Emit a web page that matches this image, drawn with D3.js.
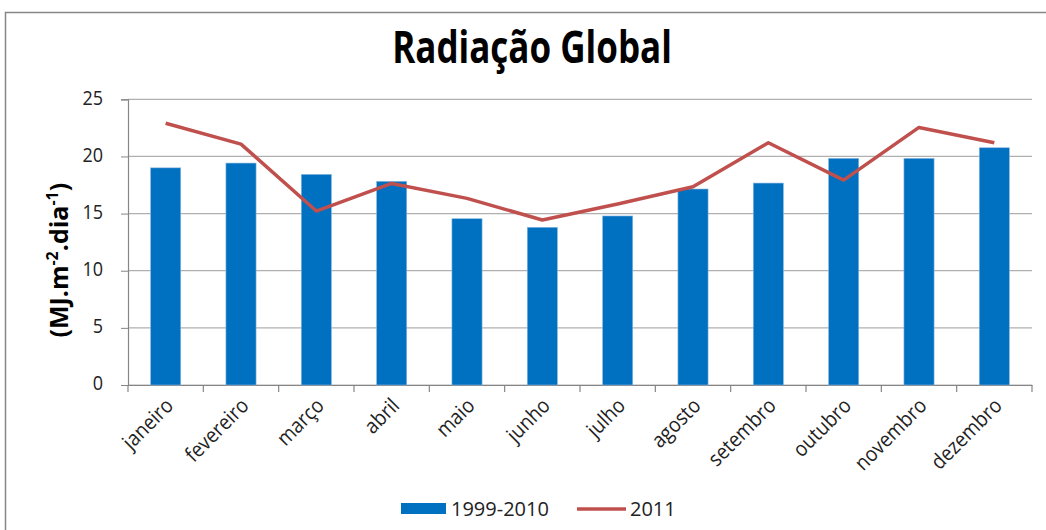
<!DOCTYPE html>
<html><head><meta charset="utf-8">
<script src="https://cdn.jsdelivr.net/npm/d3@7/dist/d3.min.js"></script>
<style>body{margin:0;background:#fff}svg{display:block}</style>
</head><body>
<script>
const months = ["janeiro","fevereiro","março","abril","maio","junho","julho","agosto","setembro","outubro","novembro","dezembro"];
const avg19992010 = [19.0, 19.42, 18.43, 17.82, 14.55, 13.8, 14.79, 17.15, 17.67, 19.83, 19.83, 20.76];
const y2011 = [22.9, 21.08, 15.22, 17.64, 16.33, 14.44, 15.84, 17.35, 21.2, 17.93, 22.54, 21.2];
const yTicks = [0, 5, 10, 15, 20, 25];
const seriesNames = ["1999-2010", "2011"];
const title = "Radiação Global";

const W = 1046, H = 530;
const font = "'Open Sans', 'DejaVu Sans', sans-serif";
const svg = d3.select("body").append("svg").attr("width", W).attr("height", H);

// outer border
svg.append("rect").attr("x", 5.5).attr("y", 12.5).attr("width", W + 10).attr("height", H + 10)
  .attr("fill", "none").attr("stroke", "#868686").attr("stroke-width", 1.5);

const x0 = 128, x1 = 1032, yTop = 99.3, yBot = 385;
const x = d3.scaleBand().domain(months).range([x0, x1]).paddingInner(0.6).paddingOuter(0.3);
const xb = d3.scaleBand().domain(months).range([x0, x1]);
const y = d3.scaleLinear().domain([0, 25]).range([yBot, yTop]);

// gridlines
svg.append("g").selectAll("line").data(yTicks).join("line")
  .attr("x1", x0).attr("x2", x1).attr("y1", d => y(d)).attr("y2", d => y(d))
  .attr("stroke", "#b0b0b0").attr("stroke-width", 1.2);

// y axis
const yAxis = svg.append("g").attr("transform", `translate(${x0},0)`)
  .call(d3.axisLeft(y).tickValues(yTicks).tickSize(7).tickPadding(18));
yAxis.select(".domain").attr("stroke", "#868686").attr("stroke-width", 1.2);
yAxis.selectAll(".tick line").attr("stroke", "#868686");
yAxis.selectAll("text").attr("font-family", font).attr("font-size", 18).attr("fill", "#222")
  .attr("transform", "scale(1,1.1)").attr("dy", "0.25em");

// x axis
const xAxis = svg.append("g").attr("transform", `translate(0,${yBot})`)
  .call(d3.axisBottom(xb).tickSize(0).tickSizeOuter(0));
xAxis.attr("font-size", null);
xAxis.select(".domain").attr("stroke", "#868686").attr("stroke-width", 1.2);
xAxis.selectAll(".tick line").remove();
xAxis.selectAll(".tick text")
  .attr("font-family", font).style("font-size", "19px").attr("fill", "#222")
  .attr("text-anchor", "end").attr("dy", 0).attr("y", 0)
  .attr("transform", "translate(9,22) rotate(-45) scale(1,1.1)");
// category boundary ticks
svg.append("g").selectAll("line").data(months.concat(["__end"])).join("line")
  .attr("x1", (d, i) => x0 + i * xb.step()).attr("x2", (d, i) => x0 + i * xb.step())
  .attr("y1", yBot).attr("y2", yBot + 7).attr("stroke", "#868686").attr("stroke-width", 1.2);

// bars
svg.append("g").selectAll("rect").data(avg19992010).join("rect")
  .attr("x", (d, i) => x(months[i])).attr("width", x.bandwidth())
  .attr("y", d => y(d)).attr("height", d => yBot - y(d))
  .attr("fill", "#0070C0").attr("stroke", "#8cb8e0").attr("stroke-width", 0.6);

// line
const line = d3.line().x((d, i) => xb(months[i]) + xb.bandwidth() / 2).y(d => y(d));
svg.append("path").datum(y2011).attr("d", line)
  .attr("fill", "none").attr("stroke", "#C0504D").attr("stroke-width", 3.5).attr("stroke-linejoin", "round");

// title
svg.append("text").attr("transform", "translate(532,63) scale(1,1.3)").attr("text-anchor", "middle")
  .attr("font-family", font).attr("font-weight", "bold").attr("font-size", 35).attr("fill", "#000")
  .text(title);

// y-axis label
const yl = svg.append("text").attr("transform", `translate(68,${(yTop + yBot) / 2 + 18}) rotate(-90)`)
  .attr("text-anchor", "middle").attr("font-family", font).attr("font-weight", "bold")
  .attr("font-size", 25).attr("fill", "#000");
yl.append("tspan").text("(MJ.m");
yl.append("tspan").attr("dy", -10).attr("font-size", 16).text("-2");
yl.append("tspan").attr("dy", 10).text(".dia");
yl.append("tspan").attr("dy", -10).attr("font-size", 16).text("-1");
yl.append("tspan").attr("dy", 10).text(")");

// legend
const lg = svg.append("g");
lg.append("rect").attr("x", 401).attr("y", 503).attr("width", 45).attr("height", 11).attr("fill", "#0070C0");
lg.append("text").attr("x", 451).attr("y", 516).attr("font-family", font).attr("font-size", 20).attr("fill", "#222").text(seriesNames[0]);
lg.append("line").attr("x1", 577).attr("x2", 626).attr("y1", 509).attr("y2", 509)
  .attr("stroke", "#C0504D").attr("stroke-width", 3.5);
lg.append("text").attr("x", 630).attr("y", 516).attr("font-family", font).attr("font-size", 20).attr("fill", "#222").text(seriesNames[1]);
</script>
</body></html>
